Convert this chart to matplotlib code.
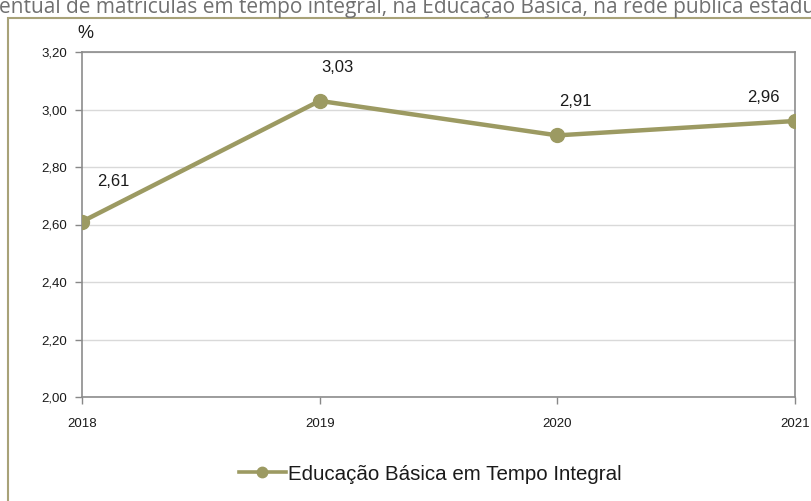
import matplotlib
matplotlib.use("Agg")
import matplotlib.pyplot as plt
from matplotlib.patches import Rectangle

years = ["2018", "2019", "2020", "2021"]
values = [2.61, 3.03, 2.91, 2.96]
labels = ["2,61", "3,03", "2,91", "2,96"]
yticks = [2.00, 2.20, 2.40, 2.60, 2.80, 3.00, 3.20]
ytick_labels = ["2,00", "2,20", "2,40", "2,60", "2,80", "3,00", "3,20"]
series_name = "Educação Básica em Tempo Integral"
label_offsets = [(31, 40), (18, 33), (18, 34), (-32, 23)]

W, H = 812, 501
fig = plt.figure(figsize=(W / 100, H / 100), dpi=100)
fig.patch.set_facecolor("white")

# clipped heading line at top
fig.text(-1 / W, 1 - 13 / H,
         "entual de matrículas em tempo integral, na Educação Básica, na rede pública estadu",
         fontsize=15, family="Open Sans", color="#707070", ha="left", va="baseline")

# outer chart border
fig.patches.append(Rectangle((8 / W, -0.1), 1.2, 1 - 18 / H + 0.1, transform=fig.transFigure,
                             fill=False, edgecolor="#a8a278", linewidth=1.5))

ax = fig.add_axes([82 / W, 1 - 397 / H, (795 - 82) / W, (397 - 52) / H])
x = list(range(len(years)))
color = "#9c9a62"
ax.plot(x, values, color=color, linewidth=3.2, marker="o", markersize=10,
        markerfacecolor=color, markeredgecolor=color, label=series_name, zorder=3)

for xi, v, lab, off in zip(x, values, labels, label_offsets):
    ax.annotate(lab, (xi, v), xytext=off, textcoords="offset pixels",
                ha="center", va="center", fontsize=12, family="Liberation Sans", color="#1a1a1a")

ax.set_xlim(0, len(years) - 1)
ax.set_ylim(2.0, 3.2)
ax.set_yticks(yticks)
ax.set_yticklabels(ytick_labels, family="Liberation Sans", fontsize=9.5)
ax.set_xticks(x)
ax.set_xticklabels(years, family="Liberation Sans", fontsize=9.5)
ax.tick_params(axis="both", colors="#888888", labelcolor="#1a1a1a", length=5, width=1)
ax.tick_params(axis="x", pad=10)
ax.tick_params(axis="y", pad=6)
ax.grid(axis="y", color="#d9d9d9", linewidth=1)
ax.set_axisbelow(True)
for s in ax.spines.values():
    s.set_color("#8c8c8c")
    s.set_linewidth(1.2)

fig.text(85 / W, 1 - 33 / H, "%", fontsize=13, family="Liberation Sans", color="#1a1a1a",
         ha="center", va="center")

leg = fig.legend(loc="center", bbox_to_anchor=(430 / W, 1 - 474 / H), frameon=False,
                 prop={"family": "Liberation Sans", "size": 14.8}, handlelength=2.3,
                 handletextpad=0.1, labelcolor="#1a1a1a")
h = leg.legend_handles[0]
h.set_markersize(7.5)
h.set_linewidth(2.6)

fig.savefig("out.png", dpi=100, facecolor="white")
